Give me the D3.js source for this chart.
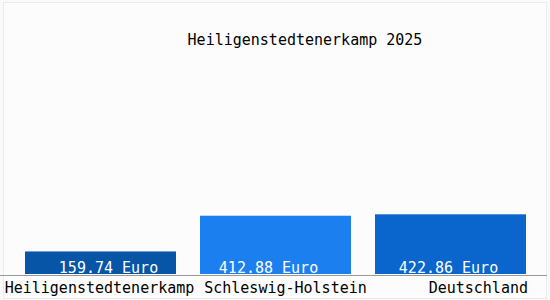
<!DOCTYPE html>
<html>
<head>
<meta charset="utf-8">
<script src="https://cdn.jsdelivr.net/npm/d3@7"></script>
<style>
  body { margin: 0; background: #fafafa; }
  svg { display: block; }
  text { font-family: "DejaVu Sans Mono", monospace; font-size: 15px; }
</style>
</head>
<body>
<svg width="550" height="300"></svg>
<script>
var regions = ["Heiligenstedtenerkamp", "Schleswig-Holstein", "Deutschland"];
var values = [159.74, 412.88, 422.86];
var barColors = ["#0755a6", "#1b7ff0", "#0a66cc"];
var title = "Heiligenstedtenerkamp 2025";

var svg = d3.select("svg"),
    width = +svg.attr("width"),
    height = +svg.attr("height");

// faint frame
svg.append("rect")
    .attr("x", 3.5).attr("y", 2.5)
    .attr("width", width - 7).attr("height", height - 4)
    .attr("fill", "#fcfcfc")
    .attr("stroke", "#ebebeb");

var x = d3.scaleBand()
    .domain(regions)
    .range([13, 538])
    .paddingInner(24 / 175)
    .paddingOuter(12 / 175);

var y = d3.scaleLinear()
    .domain([0, 1750])
    .range([274, 27]);

svg.append("text")
    .attr("x", 305)
    .attr("y", 45)
    .attr("text-anchor", "middle")
    .attr("fill", "#000")
    .text(title);

svg.selectAll(".bar")
    .data(values)
    .enter().append("rect")
      .attr("class", "bar")
      .attr("x", function(d, i) { return x(regions[i]); })
      .attr("y", function(d) { return y(d); })
      .attr("width", x.bandwidth())
      .attr("height", function(d) { return y(0) - y(d); })
      .attr("fill", function(d, i) { return barColors[i]; });

// value labels sit at the foot of each bar
var labelShift = [8, -7, -2];
svg.selectAll(".val")
    .data(values)
    .enter().append("text")
      .attr("class", "val")
      .attr("x", function(d, i) { return x(regions[i]) + x.bandwidth() / 2 + labelShift[i]; })
      .attr("y", y(0) - 1)
      .attr("text-anchor", "middle")
      .attr("fill", "#fff")
      .text(function(d) { return d.toFixed(2) + " Euro"; });

// baseline
svg.append("line")
    .attr("x1", 0).attr("x2", 547)
    .attr("y1", 275.5).attr("y2", 275.5)
    .attr("stroke", "#999");

// category labels
svg.selectAll(".cat")
    .data(regions)
    .enter().append("text")
      .attr("class", "cat")
      .attr("x", function(d, i) {
        if (i == regions.length - 1) return x(d) + x.bandwidth() + 2;
        if (i == 0) return x(d) + x.bandwidth() / 2 - 1;
        return x(d) + x.bandwidth() / 2 + 10;
      })
      .attr("y", 293)
      .attr("text-anchor", function(d, i) { return i == regions.length - 1 ? "end" : "middle"; })
      .attr("fill", "#000")
      .text(function(d) { return d; });
</script>
</body>
</html>
